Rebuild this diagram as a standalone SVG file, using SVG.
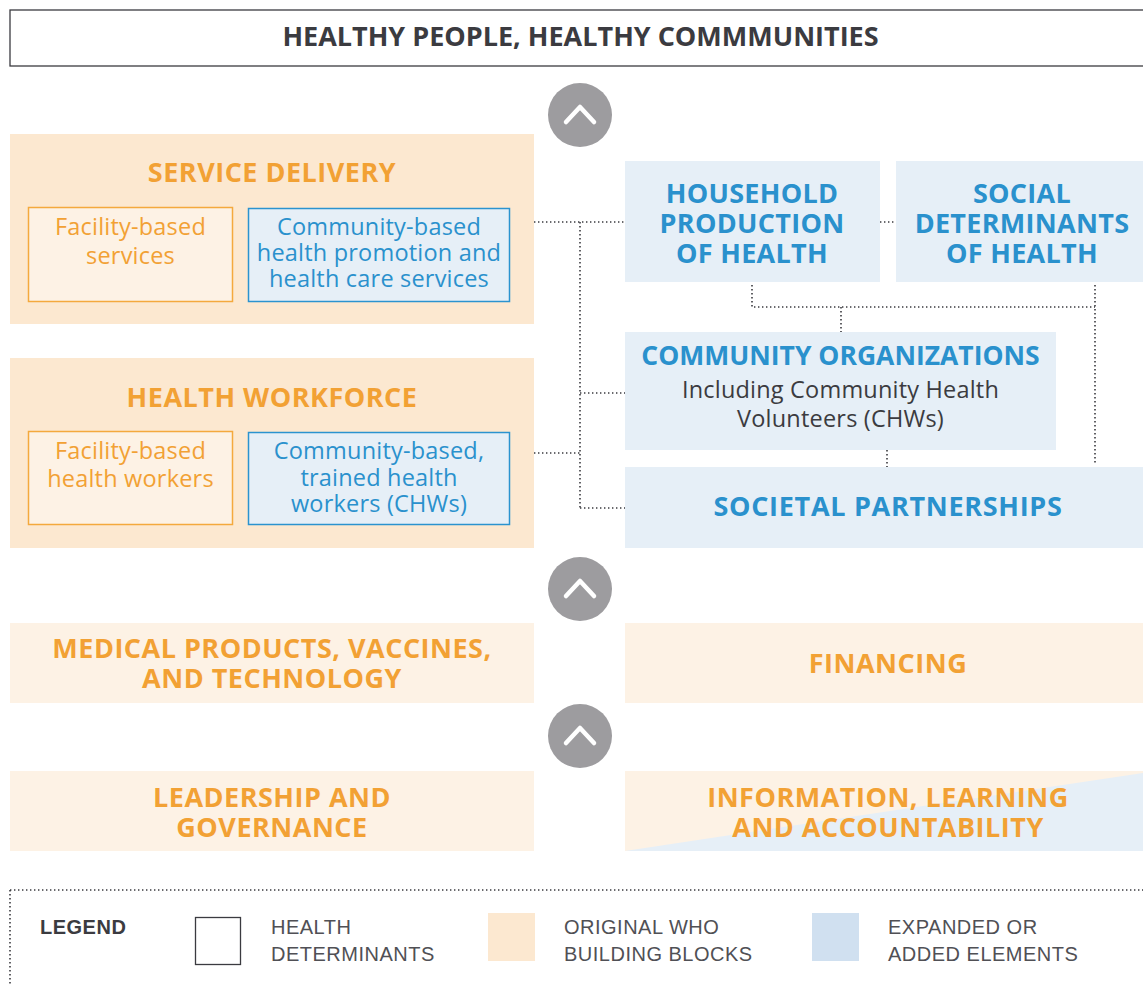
<svg xmlns="http://www.w3.org/2000/svg" width="1143" height="986" viewBox="0 0 1143 986">
<style>
  .bg { fill: #ffffff; }
  .orig { fill: #FCE8D0; }
  .origL { fill: #FDF2E5; }
  .exp { fill: #E6EFF7; }
  .inO { fill: #FDF2E5; stroke: #F4A93D; stroke-width: 1.5; }
  .inB { fill: #E6EFF7; stroke: #2B93CF; stroke-width: 1.5; }
  .hO { font-family: "Open Sans", "Lato", sans-serif; font-weight: 700; font-size: 27px; letter-spacing: 0.5px; fill: #F2A134; text-anchor: middle; }
  .hB { font-family: "Open Sans", "Lato", sans-serif; font-weight: 700; font-size: 27px; letter-spacing: 0.3px; fill: #2A91CD; text-anchor: middle; }
  .tO { font-family: "Open Sans", "Lato", sans-serif; font-size: 23.5px; letter-spacing: 0.2px; fill: #F2A134; text-anchor: middle; }
  .tB { font-family: "Open Sans", "Lato", sans-serif; font-size: 23.5px; letter-spacing: 0.2px; fill: #2A91CD; text-anchor: middle; }
  .tD { font-family: "Open Sans", "Lato", sans-serif; font-size: 23.5px; letter-spacing: 0.2px; fill: #3B3B40; text-anchor: middle; }
  .title { font-family: "Open Sans", "Lato", sans-serif; font-weight: 700; font-size: 27px; fill: #3B3B40; text-anchor: middle; }
  .dot { fill: none; stroke: #3a3a3f; stroke-width: 1.6; stroke-dasharray: 1.4 2.6; }
  .lg { font-family: "Liberation Sans", Arial, sans-serif; font-size: 20px; letter-spacing: 0.5px; fill: #505055; }
  .lgb { font-family: "Liberation Sans", Arial, sans-serif; font-size: 20px; letter-spacing: 0.5px; font-weight: 700; fill: #3B3B40; }
  .circ { fill: #9D9C9F; }
  .chev { fill: none; stroke: #ffffff; stroke-width: 4.5; stroke-linecap: round; stroke-linejoin: round; }
</style>
<defs>
  <g id="up">
    <circle class="circ" cx="0" cy="0" r="32"/>
    <polyline class="chev" points="-14,7 0,-8 14,7"/>
  </g>
</defs>
<rect class="bg" x="0" y="0" width="1143" height="986"/>

<g id="title">
  <rect x="10" y="10" width="1140" height="56" fill="#ffffff" stroke="#3B3B40" stroke-width="1.3"/>
  <text class="title" x="580.5" y="46">HEALTHY PEOPLE, HEALTHY COMMMUNITIES</text>
</g>

<g id="arrows">
  <use href="#up" x="580" y="115"/>
  <use href="#up" x="580" y="589"/>
  <use href="#up" x="580" y="736"/>
</g>

<g id="connectors">
  <path class="dot" d="M534,222 H625"/>
  <path class="dot" d="M580,222 V508"/>
  <path class="dot" d="M580,393 H625"/>
  <path class="dot" d="M534,453 H580"/>
  <path class="dot" d="M580,508 H625"/>
  <path class="dot" d="M880,222 H896"/>
  <path class="dot" d="M752,285 V307 H1095"/>
  <path class="dot" d="M1095,285 V465"/>
  <path class="dot" d="M841,307 V332"/>
  <path class="dot" d="M887,450 V467"/>
</g>

<g id="service-delivery">
  <rect class="orig" x="10" y="134" width="524" height="190"/>
  <text class="hO" x="272" y="182">SERVICE DELIVERY</text>
</g>
<g id="facility-services">
  <rect class="inO" x="28.5" y="207.5" width="204" height="94"/>
  <text class="tO" x="130.5" y="235">Facility-based</text>
  <text class="tO" x="130.5" y="264">services</text>
</g>
<g id="community-services">
  <rect class="inB" x="248.5" y="208.5" width="261" height="93"/>
  <text class="tB" x="379" y="235">Community-based</text>
  <text class="tB" x="379" y="261">health promotion and</text>
  <text class="tB" x="379" y="287">health care services</text>
</g>

<g id="health-workforce">
  <rect class="orig" x="10" y="358" width="524" height="190"/>
  <text class="hO" x="272" y="407">HEALTH WORKFORCE</text>
</g>
<g id="facility-workers">
  <rect class="inO" x="28.5" y="431.5" width="204" height="93"/>
  <text class="tO" x="130.5" y="459">Facility-based</text>
  <text class="tO" x="130.5" y="487">health workers</text>
</g>
<g id="community-workers">
  <rect class="inB" x="248.5" y="432.5" width="261" height="92"/>
  <text class="tB" x="379" y="459">Community-based,</text>
  <text class="tB" x="379" y="486">trained health</text>
  <text class="tB" x="379" y="512">workers (CHWs)</text>
</g>

<g id="household">
  <rect class="exp" x="625" y="161" width="255" height="121"/>
  <text class="hB" x="752" y="203">HOUSEHOLD</text>
  <text class="hB" x="752" y="233">PRODUCTION</text>
  <text class="hB" x="752" y="263">OF HEALTH</text>
</g>
<g id="social-determinants">
  <rect class="exp" x="896" y="161" width="247" height="121"/>
  <text class="hB" x="1022" y="203">SOCIAL</text>
  <text class="hB" x="1022" y="233">DETERMINANTS</text>
  <text class="hB" x="1022" y="263">OF HEALTH</text>
</g>
<g id="community-organizations">
  <rect class="exp" x="625" y="332" width="431" height="118"/>
  <text class="hB" x="840.5" y="365" style="font-size:26.5px;letter-spacing:0">COMMUNITY ORGANIZATIONS</text>
  <text class="tD" x="840.5" y="398">Including Community Health</text>
  <text class="tD" x="840.5" y="427">Volunteers (CHWs)</text>
</g>
<g id="societal-partnerships">
  <rect class="exp" x="625" y="467" width="518" height="81"/>
  <text class="hB" x="888" y="516" style="letter-spacing:0.7px">SOCIETAL PARTNERSHIPS</text>
</g>

<g id="medical-products">
  <rect class="origL" x="10" y="623" width="524" height="80"/>
  <text class="hO" x="272" y="658">MEDICAL PRODUCTS, VACCINES,</text>
  <text class="hO" x="272" y="688">AND TECHNOLOGY</text>
</g>
<g id="financing">
  <rect class="origL" x="625" y="623" width="518" height="80"/>
  <text class="hO" x="888" y="673">FINANCING</text>
</g>
<g id="leadership">
  <rect class="origL" x="10" y="771" width="524" height="80"/>
  <text class="hO" x="272" y="807">LEADERSHIP AND</text>
  <text class="hO" x="272" y="837">GOVERNANCE</text>
</g>
<g id="information">
  <rect class="origL" x="625" y="771" width="518" height="80"/>
  <polygon class="exp" points="625,851 1143,773 1143,851"/>
  <text class="hO" x="888" y="807">INFORMATION, LEARNING</text>
  <text class="hO" x="888" y="837">AND ACCOUNTABILITY</text>
</g>

<g id="legend">
  <path class="dot" d="M10,890 H1143 M10,890 V986"/>
  <text class="lgb" x="40" y="934">LEGEND</text>
  <rect x="195.5" y="917.5" width="45" height="47" fill="#ffffff" stroke="#3B3B40" stroke-width="1.3"/>
  <text class="lg" x="271" y="934">HEALTH</text>
  <text class="lg" x="271" y="961">DETERMINANTS</text>
  <rect x="488" y="913" width="47" height="48" fill="#FCE8D0"/>
  <text class="lg" x="564" y="934">ORIGINAL WHO</text>
  <text class="lg" x="564" y="961">BUILDING BLOCKS</text>
  <rect x="812" y="913" width="47" height="48" fill="#D0E0F0"/>
  <text class="lg" x="888" y="934">EXPANDED OR</text>
  <text class="lg" x="888" y="961">ADDED ELEMENTS</text>
</g>
</svg>
